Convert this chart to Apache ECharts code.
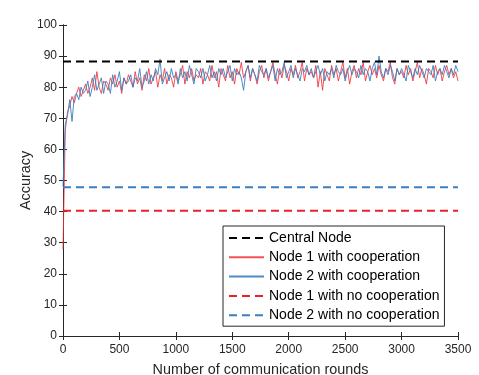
<!DOCTYPE html>
<html>
<head>
<meta charset="utf-8">
<script src="https://cdn.jsdelivr.net/npm/echarts@6/dist/echarts.min.js"></script>
<style>
  html, body { margin: 0; padding: 0; background: #fff; }
  #chart { width: 479px; height: 375px; }
</style>
</head>
<body>
<div id="chart"></div>
<script>
// communication rounds (sampled every 20 rounds)
const rounds = [
    0, 20, 40, 60, 80, 100, 120, 140, 160, 180,
    200, 220, 240, 260, 280, 300, 320, 340, 360, 380,
    400, 420, 440, 460, 480, 500, 520, 540, 560, 580,
    600, 620, 640, 660, 680, 700, 720, 740, 760, 780,
    800, 820, 840, 860, 880, 900, 920, 940, 960, 980,
    1000, 1020, 1040, 1060, 1080, 1100, 1120, 1140, 1160, 1180,
    1200, 1220, 1240, 1260, 1280, 1300, 1320, 1340, 1360, 1380,
    1400, 1420, 1440, 1460, 1480, 1500, 1520, 1540, 1560, 1580,
    1600, 1620, 1640, 1660, 1680, 1700, 1720, 1740, 1760, 1780,
    1800, 1820, 1840, 1860, 1880, 1900, 1920, 1940, 1960, 1980,
    2000, 2020, 2040, 2060, 2080, 2100, 2120, 2140, 2160, 2180,
    2200, 2220, 2240, 2260, 2280, 2300, 2320, 2340, 2360, 2380,
    2400, 2420, 2440, 2460, 2480, 2500, 2520, 2540, 2560, 2580,
    2600, 2620, 2640, 2660, 2680, 2700, 2720, 2740, 2760, 2780,
    2800, 2820, 2840, 2860, 2880, 2900, 2920, 2940, 2960, 2980,
    3000, 3020, 3040, 3060, 3080, 3100, 3120, 3140, 3160, 3180,
    3200, 3220, 3240, 3260, 3280, 3300, 3320, 3340, 3360, 3380,
    3400, 3420, 3440, 3460, 3480, 3500
];

const node1Coop = [
    28, 66, 72, 74, 77, 75, 78, 80, 77, 79,
    81, 78, 80, 83, 79, 85, 80, 78, 82, 81,
    79, 83, 81, 84, 80, 82, 78, 83, 81, 84,
    82, 80, 85, 81, 83, 79, 84, 82, 86, 81,
    83, 85, 80, 84, 82, 86, 81, 84, 83, 80,
    85, 82, 84, 87, 81, 85, 83, 86, 82, 84,
    83, 86, 81, 85, 84, 82, 87, 83, 85, 80,
    86, 84, 82, 87, 83, 85, 81, 86, 84, 88,
    83, 85, 87, 82, 86, 84, 81, 85, 87, 83,
    86, 82, 85, 88, 84, 81, 86, 83, 87, 85,
    82, 86, 84, 87, 83, 85, 88, 82, 86, 84,
    85, 83, 87, 80, 85, 79, 86, 84, 82, 87,
    84, 86, 82, 85, 88, 83, 86, 81, 85, 87,
    83, 86, 84, 88, 82, 85, 87, 84, 86, 83,
    87, 84, 82, 86, 85, 88, 83, 81, 86, 84,
    85, 83, 87, 84, 86, 82, 85, 88, 83, 86,
    84, 81, 86, 85, 83, 87, 84, 86, 82, 85,
    87, 84, 86, 83, 85, 82
];

const node2Coop = [
    48, 68, 71, 76, 69, 77, 78, 76, 80, 78,
    79, 82, 77, 80, 84, 79, 81, 83, 78, 82,
    81, 78, 84, 80, 82, 85, 79, 83, 81, 82,
    84, 80, 83, 82, 86, 80, 82, 85, 81, 84,
    82, 86, 84, 89, 81, 83, 85, 82, 86, 83,
    84, 81, 86, 83, 85, 82, 87, 84, 81, 86,
    85, 83, 86, 82, 84, 87, 83, 85, 82, 86,
    84, 86, 83, 85, 87, 82, 86, 84, 85, 83,
    79, 85, 87, 83, 86, 84, 82, 87, 85, 84,
    86, 83, 85, 87, 82, 86, 84, 85, 88, 83,
    85, 87, 83, 86, 84, 82, 86, 85, 87, 84,
    86, 83, 85, 87, 84, 86, 82, 85, 84, 86,
    83, 87, 85, 84, 86, 82, 85, 87, 84, 86,
    85, 83, 87, 84, 86, 85, 82, 86, 88, 84,
    90, 85, 83, 86, 84, 87, 85, 82, 86, 84,
    86, 84, 82, 87, 85, 83, 86, 84, 87, 85,
    83, 86, 85, 84, 87, 82, 85, 86, 84, 87,
    85, 83, 86, 84, 87, 85
];

// flat reference levels
const centralNode = [88.3, 88.3];
const node1NoCoop = [40.3, 40.3];
const node2NoCoop = [47.8, 47.8];
const flatRounds = [0, 3500];

const seriesNames = [
    'Central Node',
    'Node 1 with cooperation',
    'Node 2 with cooperation',
    'Node 1 with no cooperation',
    'Node 2 with no cooperation'
];

const pair = (xs, ys) => xs.map((x, i) => [x, ys[i]]);

const FONT = 'Liberation Sans';
const AXIS_COLOR = '#262626';
const DASH = [8, 5];

var chartDom = document.getElementById('chart');
var myChart = echarts.init(chartDom);

const axisCommon = {
    axisLine: { show: true, lineStyle: { color: AXIS_COLOR, width: 1 } },
    axisTick: { show: true, inside: true, length: 4, lineStyle: { color: AXIS_COLOR } },
    splitLine: { show: false }
};

var option = {
    animation: false,
    backgroundColor: '#fff',
    grid: { left: 63, right: 21, top: 25, bottom: 39, outerBoundsMode: 'none', containLabel: false },
    legend: {
        data: seriesNames,
        orient: 'vertical',
        left: 223,
        top: 226,
        padding: [5, 5, 4, 5],
        itemWidth: 35,
        itemHeight: 14,
        itemGap: 5.3,
        itemStyle: { opacity: 0 },
        backgroundColor: '#fff',
        borderColor: AXIS_COLOR,
        borderWidth: 1,
        borderRadius: 0,
        textStyle: { fontFamily: FONT, fontSize: 14, color: '#000' }
    },
    xAxis: [
        Object.assign({
            type: 'value',
            min: 0,
            max: 3500,
            interval: 500,
            name: 'Number of communication rounds',
            nameLocation: 'middle',
            nameGap: 27,
            nameMoveOverlap: false,
            nameTextStyle: { fontFamily: FONT, fontSize: 14.4, color: AXIS_COLOR },
            axisLabel: {
                fontFamily: FONT, fontSize: 12, color: AXIS_COLOR, margin: 8,
                formatter: (v) => String(v)
            }
        }, axisCommon),
        Object.assign({
            type: 'value',
            position: 'top',
            min: 0,
            max: 3500,
            interval: 500,
            axisLabel: { show: false }
        }, axisCommon)
    ],
    yAxis: [
        Object.assign({
            type: 'value',
            min: 0,
            max: 100,
            interval: 10,
            name: 'Accuracy',
            nameLocation: 'middle',
            nameGap: 30,
            nameMoveOverlap: false,
            nameTextStyle: { fontFamily: FONT, fontSize: 14.4, color: AXIS_COLOR },
            axisLabel: { fontFamily: FONT, fontSize: 12, color: AXIS_COLOR, margin: 6 }
        }, axisCommon),
        Object.assign({
            type: 'value',
            position: 'right',
            min: 0,
            max: 100,
            interval: 10,
            axisLabel: { show: false }
        }, axisCommon)
    ],
    series: [
        {
            name: seriesNames[0],
            type: 'line',
            symbol: 'none',
            data: pair(flatRounds, centralNode),
            lineStyle: { color: '#000', width: 2, type: DASH },
            itemStyle: { color: '#000' },
            z: 5
        },
        {
            name: seriesNames[1],
            type: 'line',
            symbol: 'none',
            data: pair(rounds, node1Coop),
            lineStyle: { color: '#f0323a', width: 1, opacity: 0.85 },
            itemStyle: { color: '#f0323a' },
            z: 3
        },
        {
            name: seriesNames[2],
            type: 'line',
            symbol: 'none',
            data: pair(rounds, node2Coop),
            lineStyle: { color: '#3a7fc0', width: 1, opacity: 0.9 },
            itemStyle: { color: '#3a7fc0' },
            z: 4
        },
        {
            name: seriesNames[3],
            type: 'line',
            symbol: 'none',
            data: pair(flatRounds, node1NoCoop),
            lineStyle: { color: '#e8212b', width: 2, type: DASH },
            itemStyle: { color: '#e8212b' },
            z: 5
        },
        {
            name: seriesNames[4],
            type: 'line',
            symbol: 'none',
            data: pair(flatRounds, node2NoCoop),
            lineStyle: { color: '#3a7fc0', width: 2, type: DASH },
            itemStyle: { color: '#3a7fc0' },
            z: 5
        }
    ]
};

option && myChart.setOption(option);
</script>
</body>
</html>
